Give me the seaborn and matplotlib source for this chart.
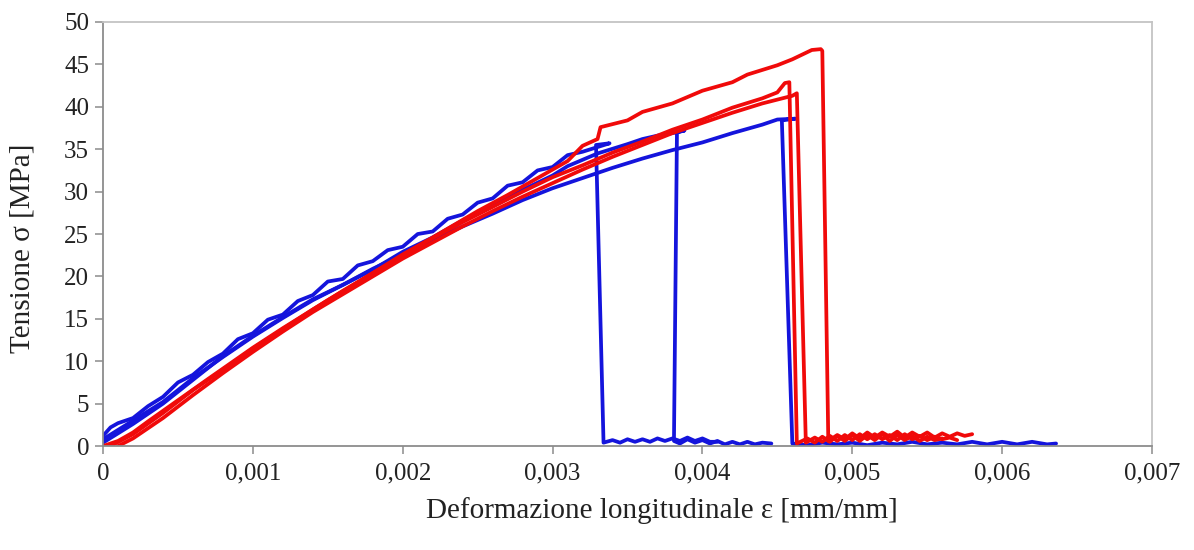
import matplotlib
matplotlib.use("Agg")
import matplotlib.pyplot as plt
from matplotlib.ticker import FuncFormatter, MultipleLocator
import seaborn as sns
import pandas as pd

# Blue specimens (strain [mm/mm], stress [MPa])
b1_x = [0, 0.00005, 0.0001, 0.0002, 0.0003, 0.0004, 0.0005, 0.0006, 0.0007, 0.0008,
        0.0009, 0.001, 0.0011, 0.0012, 0.0013, 0.0014, 0.0015, 0.0016, 0.0017, 0.0018,
        0.0019, 0.002, 0.0021, 0.0022, 0.0023, 0.0024, 0.0025, 0.0026, 0.0027, 0.0028,
        0.0029, 0.003, 0.0031, 0.0032, 0.00338, 0.00329, 0.00334, 0.0034, 0.00345,
        0.0035, 0.00355, 0.0036, 0.00365, 0.0037, 0.00375, 0.0038, 0.00385, 0.0039,
        0.00395, 0.004, 0.00405, 0.0041]
b1_y = [1.2, 2.2, 2.7, 3.3, 4.7, 5.8, 7.5, 8.4, 9.9, 10.9, 12.6, 13.3, 14.9, 15.5,
        17.1, 17.8, 19.4, 19.7, 21.3, 21.8, 23.1, 23.5, 25.0, 25.3, 26.8, 27.3, 28.7,
        29.2, 30.7, 31.1, 32.5, 32.9, 34.3, 34.7, 35.7, 35.5, 0.4, 0.7, 0.4, 0.8, 0.5,
        0.8, 0.5, 0.9, 0.6, 0.9, 0.6, 1.0, 0.6, 0.9, 0.5, 0.5]

b2_x = [0, 0.0001, 0.0002, 0.0004, 0.0006, 0.0008, 0.001, 0.0012, 0.0014, 0.0016,
        0.0018, 0.002, 0.0022, 0.0024, 0.0026, 0.0028, 0.003, 0.0031, 0.0033, 0.0035,
        0.0036, 0.0037, 0.0038, 0.00388, 0.00383, 0.00381, 0.00385, 0.0039, 0.00395,
        0.004, 0.00405, 0.0041, 0.00415, 0.0042, 0.00425, 0.0043, 0.00435, 0.0044,
        0.00446]
b2_y = [0.8, 1.9, 3.0, 5.2, 8.0, 10.5, 12.9, 15.1, 17.2, 19.0, 20.8, 22.9, 24.6, 26.6,
        28.3, 30.2, 31.9, 33.0, 34.5, 35.6, 36.2, 36.6, 36.9, 37.2, 37.0, 0.6, 0.3, 0.8,
        0.4, 0.7, 0.3, 0.6, 0.2, 0.5, 0.2, 0.5, 0.2, 0.4, 0.3]

b3_x = [0, 0.0001, 0.0002, 0.0004, 0.0006, 0.0008, 0.001, 0.0012, 0.0014, 0.0016,
        0.0018, 0.002, 0.0022, 0.0024, 0.0026, 0.0028, 0.003, 0.0032, 0.0034, 0.0036,
        0.0038, 0.004, 0.0042, 0.0044, 0.0045, 0.00462, 0.00453, 0.0046, 0.0047,
        0.0048, 0.0049, 0.005, 0.0051, 0.0052, 0.0053, 0.0054, 0.0055, 0.0056, 0.0057,
        0.0058, 0.0059, 0.006, 0.0061, 0.0062, 0.0063, 0.00636]
b3_y = [0.4, 1.5, 2.6, 5.0, 7.8, 10.6, 13.0, 15.2, 17.3, 19.0, 20.9, 22.6, 24.3, 25.9,
        27.4, 29.0, 30.4, 31.6, 32.8, 33.9, 34.9, 35.8, 36.9, 37.9, 38.5, 38.6, 38.4,
        0.3, 0.1, 0.4, 0.2, 0.4, 0.1, 0.4, 0.2, 0.5, 0.2, 0.4, 0.2, 0.5, 0.2, 0.5,
        0.2, 0.5, 0.2, 0.3]

# Red specimens
r1_x = [0, 0.0001, 0.0002, 0.0003, 0.0005, 0.0007, 0.001, 0.0012, 0.0015, 0.0017,
        0.002, 0.0022, 0.0025, 0.0027, 0.003, 0.0031, 0.0032, 0.0033, 0.00332, 0.0035,
        0.0036, 0.0038, 0.004, 0.0042, 0.0043, 0.0045, 0.0046, 0.00473, 0.00479,
        0.0048, 0.00484, 0.0049, 0.00495, 0.005, 0.00505, 0.0051, 0.00515, 0.0052,
        0.00525, 0.0053, 0.00535, 0.0054, 0.00545, 0.0055, 0.00555, 0.0056, 0.00565,
        0.0057, 0.00575, 0.0058]
r1_y = [0.0, 0.6, 1.6, 2.9, 5.4, 7.9, 11.6, 13.9, 17.2, 19.3, 22.6, 24.6, 27.7, 29.6,
        32.6, 33.6, 35.4, 36.2, 37.6, 38.4, 39.4, 40.4, 41.9, 42.9, 43.8, 44.9, 45.6,
        46.7, 46.8, 46.6, 0.6, 1.3, 0.8, 1.5, 0.9, 1.6, 1.0, 1.6, 1.1, 1.7, 1.0, 1.6,
        1.1, 1.6, 1.0, 1.5, 1.1, 1.5, 1.2, 1.4]

r2_x = [0.00005, 0.0002, 0.0004, 0.0006, 0.0008, 0.001, 0.0012, 0.0014, 0.0016,
        0.0018, 0.002, 0.0022, 0.0024, 0.0026, 0.0028, 0.003, 0.0032, 0.0034, 0.0036,
        0.0038, 0.004, 0.0042, 0.0044, 0.0045, 0.00455, 0.00458, 0.00463, 0.0047,
        0.00475, 0.0048, 0.00485, 0.0049, 0.00495, 0.005, 0.00505, 0.0051, 0.00515,
        0.0052, 0.00525, 0.0053, 0.00535, 0.0054, 0.00545, 0.0055, 0.00555, 0.0056]
r2_y = [0.0, 1.4, 3.9, 6.6, 9.0, 11.5, 13.8, 16.1, 18.3, 20.4, 22.4, 24.5, 26.4, 28.2,
        30.0, 31.7, 33.1, 34.6, 35.9, 37.3, 38.5, 39.9, 41.0, 41.7, 42.8, 42.9, 0.3,
        0.9, 0.4, 1.1, 0.5, 1.2, 0.6, 1.3, 0.6, 1.3, 0.7, 1.4, 0.6, 1.3, 0.7, 1.2, 0.6,
        1.1, 0.7, 0.9]

r3_x = [0.0001, 0.0002, 0.0004, 0.0006, 0.0008, 0.001, 0.0012, 0.0014, 0.0016,
        0.0018, 0.002, 0.0022, 0.0024, 0.0026, 0.0028, 0.003, 0.0032, 0.0034, 0.0036,
        0.0038, 0.004, 0.0042, 0.0044, 0.0046, 0.00463, 0.00469, 0.00475, 0.0048,
        0.00485, 0.0049, 0.00495, 0.005, 0.00505, 0.0051, 0.00515, 0.0052, 0.00525,
        0.0053, 0.00535, 0.0054, 0.00545, 0.0055, 0.00555, 0.0056, 0.00565, 0.0057]
r3_y = [0.0, 0.9, 3.3, 6.0, 8.6, 11.1, 13.5, 15.8, 17.9, 20.0, 22.1, 24.0, 25.9, 27.7,
        29.4, 31.0, 32.6, 34.1, 35.5, 36.9, 38.1, 39.3, 40.4, 41.3, 41.6, 0.4, 1.0,
        0.5, 1.2, 0.6, 1.3, 0.7, 1.4, 0.8, 1.4, 0.8, 1.3, 0.7, 1.4, 0.8, 1.2, 0.7, 1.1,
        0.8, 1.0, 0.7]

curves = [
    ("B1", b1_x, b1_y, "#1414dc"),
    ("B2", b2_x, b2_y, "#1414dc"),
    ("B3", b3_x, b3_y, "#1414dc"),
    ("R2", r2_x, r2_y, "#f00a0a"),
    ("R3", r3_x, r3_y, "#f00a0a"),
    ("R1", r1_x, r1_y, "#f00a0a"),
]

sns.set_style("white")
plt.rcParams['font.family'] = ['Liberation Serif', 'DejaVu Serif']

fig = plt.figure(figsize=(11.94, 5.5), dpi=100)
ax = fig.add_axes([0.0863, 0.189, 0.8785, 0.771])

for name, xs, ys, col in curves:
    df = pd.DataFrame({"strain": xs, "stress": ys})
    sns.lineplot(data=df, x="strain", y="stress", sort=False, estimator=None,
                 color=col, linewidth=2.7, ax=ax)

ax.set_xlim(0, 0.007)
ax.set_ylim(0, 50)
ax.xaxis.set_major_locator(MultipleLocator(0.001))
ax.yaxis.set_major_locator(MultipleLocator(5))
ax.xaxis.set_major_formatter(FuncFormatter(
    lambda v, p: "0" if abs(v) < 1e-12 else f"{v:.3f}".replace(".", ",")))

for side in ["left", "bottom"]:
    ax.spines[side].set_color("#8c8c8c")
    ax.spines[side].set_linewidth(1.3)
for side in ["top", "right"]:
    ax.spines[side].set_color("#c4c4c4")
    ax.spines[side].set_linewidth(1.3)

ax.tick_params(axis="both", direction="out", length=6, width=1.1, color="#8c8c8c",
               labelsize=18, labelcolor="#222222")
ax.tick_params(axis="x", pad=6)
ax.tick_params(axis="y", pad=4)
ax.tick_params(bottom=True, left=True)

ax.set_xlabel("Deformazione longitudinale ε [mm/mm]", fontsize=21, color="#222222")
ax.set_ylabel("Tensione σ [MPa]", fontsize=21, color="#222222")
ax.xaxis.set_label_coords(0.533, -0.12)
ax.yaxis.set_label_coords(-0.064, 0.467)

fig.savefig("out.png", dpi=100)
